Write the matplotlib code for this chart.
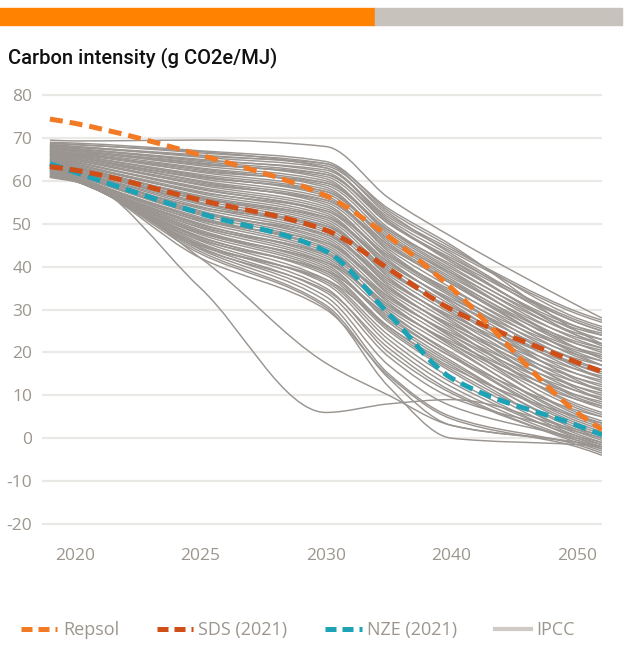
import numpy as np
import matplotlib
matplotlib.use("Agg")
import matplotlib.pyplot as plt
from matplotlib.patches import Rectangle, PathPatch
from matplotlib.path import Path
from matplotlib.lines import Line2D

plt.rcParams["axes.unicode_minus"] = False

# ─── Data ─────────────────────────────────────────────────────────────────────
TICK_YEARS = [2020, 2025, 2030, 2040, 2050]

REPSOL_YEARS = [2019, 2020, 2025, 2030, 2035, 2040, 2050, 2052]
REPSOL = [74.4, 73.4, 66.0, 56.5, 47.0, 35.0, 6.0, 2.0]

SDS_YEARS = [2019, 2020, 2025, 2030, 2035, 2040, 2050, 2052]
SDS = [63.3, 62.5, 55.5, 48.5, 39.5, 30.0, 17.7, 15.5]

NZE_YEARS = [2019, 2020, 2025, 2030, 2035, 2040, 2050, 2052]
NZE = [64.0, 62.0, 52.4, 43.6, 29.0, 14.0, 3.0, 0.8]

IPCC_YEARS = [2019, 2020, 2025, 2030, 2035, 2040, 2050, 2052]
IPCC = [
    [69.5, 69.3, 69.5, 68.0, 56.0, 47.0, 31.0, 28.0],
    [69.0, 68.8, 67.0, 64.5, 53.0, 44.5, 28.0, 26.0],
    [68.8, 68.5, 66.5, 64.0, 52.0, 44.0, 29.5, 27.5],
    [68.7, 68.4, 66.8, 63.0, 50.5, 41.5, 24.0, 21.5],
    [68.5, 68.0, 66.0, 63.5, 52.5, 43.0, 27.0, 25.0],
    [68.3, 68.0, 65.5, 63.0, 51.0, 42.5, 26.0, 24.0],
    [68.2, 67.8, 65.8, 64.0, 53.5, 45.0, 25.0, 22.0],
    [68.0, 67.5, 65.0, 62.0, 50.0, 42.0, 27.5, 25.5],
    [68.0, 67.5, 64.5, 61.5, 50.5, 41.0, 25.0, 23.0],
    [67.9, 67.4, 64.8, 62.5, 51.5, 43.5, 29.0, 27.0],
    [67.8, 67.2, 64.0, 61.0, 49.0, 40.0, 24.0, 22.0],
    [67.6, 67.0, 64.2, 60.5, 47.5, 38.5, 21.0, 18.5],
    [67.5, 67.0, 63.5, 60.0, 48.5, 40.5, 26.0, 24.5],
    [67.5, 66.8, 63.0, 59.5, 48.0, 39.0, 23.0, 21.0],
    [67.4, 66.9, 63.8, 61.5, 50.0, 41.5, 27.0, 25.0],
    [67.2, 66.5, 62.5, 59.0, 47.0, 38.0, 22.0, 20.0],
    [67.1, 66.3, 62.8, 58.5, 45.5, 36.5, 19.5, 17.0],
    [67.0, 66.5, 62.0, 58.0, 46.5, 38.5, 24.5, 23.0],
    [67.0, 66.0, 61.5, 57.5, 46.0, 37.0, 21.0, 19.0],
    [66.9, 66.2, 62.2, 59.5, 48.5, 39.5, 25.5, 24.0],
    [66.8, 66.0, 61.0, 57.0, 45.0, 36.0, 20.0, 18.0],
    [66.6, 65.8, 61.2, 56.5, 43.5, 33.5, 16.5, 14.0],
    [66.5, 65.5, 60.5, 56.0, 44.5, 36.5, 22.5, 21.0],
    [66.5, 65.5, 60.0, 55.5, 44.0, 35.0, 19.0, 17.0],
    [66.4, 65.6, 60.8, 57.5, 46.5, 37.5, 23.5, 22.0],
    [66.3, 65.0, 59.5, 55.0, 43.0, 34.0, 18.0, 16.0],
    [66.2, 65.2, 59.8, 54.5, 41.5, 31.5, 13.5, 11.0],
    [66.0, 65.0, 59.0, 54.0, 42.5, 34.5, 21.0, 19.5],
    [66.0, 64.5, 58.5, 53.5, 42.0, 33.0, 17.0, 15.0],
    [66.0, 64.8, 59.2, 55.5, 45.0, 36.0, 22.0, 20.5],
    [65.8, 64.5, 58.0, 53.0, 41.0, 32.0, 16.0, 14.0],
    [65.7, 64.3, 58.2, 52.5, 39.5, 29.5, 11.5, 9.0],
    [65.5, 64.0, 57.5, 52.0, 40.5, 32.5, 19.5, 18.0],
    [65.5, 64.0, 57.0, 51.5, 40.0, 31.0, 15.0, 13.0],
    [65.4, 63.8, 57.3, 53.0, 42.5, 33.5, 20.5, 19.0],
    [65.2, 63.5, 56.5, 51.0, 39.0, 30.0, 14.0, 12.0],
    [65.1, 63.3, 56.2, 50.5, 37.5, 27.5, 9.5, 7.5],
    [65.0, 63.5, 56.0, 50.0, 38.5, 30.5, 17.5, 16.0],
    [65.0, 63.0, 55.5, 49.5, 38.0, 29.0, 13.0, 11.0],
    [64.9, 63.2, 55.8, 51.5, 41.0, 32.0, 18.5, 17.0],
    [64.8, 63.0, 55.0, 49.0, 37.0, 28.0, 12.0, 10.0],
    [64.6, 62.8, 54.8, 48.5, 35.5, 25.5, 7.5, 5.5],
    [64.5, 62.5, 54.5, 48.0, 36.5, 28.5, 16.0, 14.5],
    [64.5, 62.5, 54.0, 47.5, 36.0, 27.0, 11.0, 9.0],
    [64.3, 62.3, 53.8, 49.5, 39.0, 30.0, 17.0, 15.5],
    [64.2, 62.0, 53.5, 47.0, 35.0, 26.0, 10.0, 8.0],
    [64.1, 61.8, 52.8, 46.5, 33.5, 23.5, 5.5, 3.5],
    [64.0, 62.0, 53.0, 46.0, 34.5, 26.5, 14.0, 12.5],
    [64.0, 61.5, 52.5, 45.5, 34.0, 25.0, 9.0, 7.0],
    [63.9, 61.8, 52.3, 47.5, 37.0, 28.0, 15.0, 13.5],
    [63.8, 61.5, 52.0, 45.0, 33.0, 24.0, 8.0, 6.0],
    [63.6, 61.2, 51.2, 44.5, 31.5, 21.5, 4.5, 2.5],
    [63.5, 61.0, 51.5, 44.0, 32.5, 24.5, 12.0, 10.5],
    [63.5, 61.0, 51.0, 43.5, 32.0, 23.0, 7.0, 5.0],
    [63.4, 61.0, 50.8, 45.5, 35.0, 26.0, 13.0, 11.5],
    [63.2, 60.8, 50.5, 43.0, 31.0, 22.0, 6.0, 4.0],
    [63.1, 60.7, 49.8, 42.5, 29.5, 19.5, 3.5, 1.5],
    [63.0, 60.5, 50.0, 42.0, 30.5, 22.5, 10.0, 8.5],
    [63.0, 60.5, 49.5, 41.5, 30.0, 21.0, 5.0, 3.0],
    [62.9, 60.6, 49.2, 43.0, 33.0, 24.0, 11.0, 9.5],
    [62.8, 60.5, 49.0, 41.0, 29.0, 20.0, 4.0, 2.0],
    [62.6, 60.4, 48.2, 40.5, 27.0, 17.5, 2.5, 0.5],
    [62.5, 60.3, 48.5, 40.0, 28.0, 19.0, 3.0, 1.0],
    [62.5, 60.3, 48.0, 39.5, 27.5, 18.0, 2.0, 0.0],
    [62.4, 60.3, 47.8, 41.0, 31.0, 22.0, 9.0, 7.5],
    [62.3, 60.2, 47.5, 39.0, 26.0, 17.0, 1.0, -1.0],
    [62.1, 60.1, 46.8, 38.5, 25.5, 16.0, 1.5, -0.5],
    [62.0, 60.0, 47.0, 38.0, 25.0, 15.5, 0.5, -1.5],
    [62.0, 60.0, 46.5, 37.0, 24.0, 14.0, 0.0, -2.0],
    [61.9, 60.1, 46.2, 39.0, 28.5, 19.0, 6.5, 5.0],
    [61.8, 60.0, 46.0, 36.0, 22.0, 12.0, -0.5, -2.5],
    [61.6, 60.0, 45.2, 36.5, 23.0, 13.0, 0.5, -1.0],
    [61.5, 60.0, 45.5, 35.0, 20.0, 10.5, -1.0, -3.0],
    [61.5, 60.0, 45.0, 34.0, 19.0, 9.5, 1.5, 0.0],
    [61.3, 60.0, 44.8, 37.0, 26.0, 16.5, 5.0, 3.5],
    [61.2, 60.0, 44.5, 33.0, 17.0, 7.5, 0.0, -1.5],
    [61.1, 60.0, 44.2, 34.5, 21.0, 11.0, -0.5, -2.0],
    [61.0, 60.0, 44.0, 32.0, 15.0, 5.0, -1.5, -3.5],
    [61.0, 60.0, 43.5, 31.0, 14.0, 3.0, -1.0, -2.5],
    [60.8, 59.8, 43.0, 30.5, 12.0, 0.0, -1.5, -2.0],
    [61.0, 60.0, 42.0, 30.0, 14.5, 4.5, -2.0, -4.0],
    [61.0, 60.5, 42.0, 17.5, 10.0, 3.0, -1.0, -2.0],
    [61.0, 60.5, 35.0, 6.0, 8.0, 9.0, 2.0, 0.7],
]

LEGEND_LABELS = ["Repsol", "SDS (2021)", "NZE (2021)", "IPCC"]

# ─── Style ────────────────────────────────────────────────────────────────────
C_REPSOL = "#f27a24"
C_SDS = "#d04e17"
C_NZE = "#1ea2b6"
C_IPCC = "#9a9591"
C_TEXT = "#9c968f"
C_GRID = "#ebe9e6"
W, H = 628, 653


def to_pos(years):
    # category axis: 2020-2030 in 5 yr steps, then 10 yr steps
    out = []
    for y in years:
        if y <= 2030:
            out.append((y - 2020) / 5)
        else:
            out.append(2 + (y - 2030) / 10)
    return np.array(out)


def smooth_path(xs, ys):
    # smoothed line through the points (monotone cubic segments)
    x = np.asarray(xs, float)
    y = np.asarray(ys, float)
    n = len(x)
    h = np.diff(x)
    d = np.diff(y) / h
    m = np.zeros(n)
    m[0], m[-1] = d[0], d[-1]
    for k in range(1, n - 1):
        if d[k - 1] * d[k] <= 0:
            m[k] = 0.0
        else:
            w1 = 2 * h[k] + h[k - 1]
            w2 = h[k] + 2 * h[k - 1]
            m[k] = (w1 + w2) / (w1 / d[k - 1] + w2 / d[k])
    verts, codes = [(x[0], y[0])], [Path.MOVETO]
    for i in range(n - 1):
        verts += [(x[i] + h[i] / 3, y[i] + m[i] * h[i] / 3),
                  (x[i + 1] - h[i] / 3, y[i + 1] - m[i + 1] * h[i] / 3),
                  (x[i + 1], y[i + 1])]
        codes += [Path.CURVE4] * 3
    return Path(verts, codes)


fig = plt.figure(figsize=(6.28, 6.53), dpi=100)

# header bar
fig.patches.append(Rectangle((0, 1 - 25 / H), 375 / W, 17 / H,
                             transform=fig.transFigure, color="#ff8300"))
fig.patches.append(Rectangle((375 / W, 1 - 25 / H), 247 / W, 17 / H,
                             transform=fig.transFigure, color="#c7c2bc"))

fig.text(8 / W, 1 - 58 / H, "Carbon intensity (g CO2e/MJ)",
         fontsize=14.5, family="Roboto", weight="medium",
         color="#111111", va="center")

ax = fig.add_axes([42 / W, 0.191, 560 / W, 0.670])

for row in IPCC:
    ax.add_patch(PathPatch(smooth_path(to_pos(IPCC_YEARS), row), fill=False,
                           edgecolor=C_IPCC, lw=1.05, zorder=2))

dash = (0, (2.6, 1.4))
for yrs, vals, col, z in [(NZE_YEARS, NZE, C_NZE, 3),
                          (SDS_YEARS, SDS, C_SDS, 4),
                          (REPSOL_YEARS, REPSOL, C_REPSOL, 5)]:
    ax.add_patch(PathPatch(smooth_path(to_pos(yrs), vals), fill=False,
                           edgecolor=col, lw=3.6, linestyle=dash,
                           capstyle="butt", zorder=z))

ax.set_xlim(-0.263, 4.2)
ax.set_ylim(-21, 81)
ax.set_yticks(np.arange(-20, 81, 10))
ax.set_xticks(to_pos(TICK_YEARS))
ax.set_xticklabels([str(y) for y in TICK_YEARS])
ax.yaxis.grid(True, color=C_GRID, lw=1.6)
ax.set_axisbelow(True)
for s in ax.spines.values():
    s.set_visible(False)
ax.tick_params(axis="both", length=0, colors=C_TEXT, labelsize=12.5)
ax.tick_params(axis="y", pad=7)
ax.tick_params(axis="x", pad=14)
for lab in ax.get_xticklabels() + ax.get_yticklabels():
    lab.set_family("Open Sans")

handles = [
    Line2D([], [], color=C_REPSOL, lw=3.6, dashes=(2.2, 1.2)),
    Line2D([], [], color=C_SDS, lw=3.6, dashes=(2.2, 1.2)),
    Line2D([], [], color=C_NZE, lw=3.6, dashes=(2.2, 1.2)),
    Line2D([], [], color="#cfcac5", lw=3.0),
]
leg = fig.legend(handles, LEGEND_LABELS, loc="center left",
                 bbox_to_anchor=(5 / W, 1 - 630 / H), ncol=4, frameon=False,
                 handlelength=2.0, handletextpad=0.3, columnspacing=2.1,
                 prop={"family": "Open Sans", "size": 13})
for t in leg.get_texts():
    t.set_color(C_TEXT)

fig.savefig("out.png", dpi=100)
